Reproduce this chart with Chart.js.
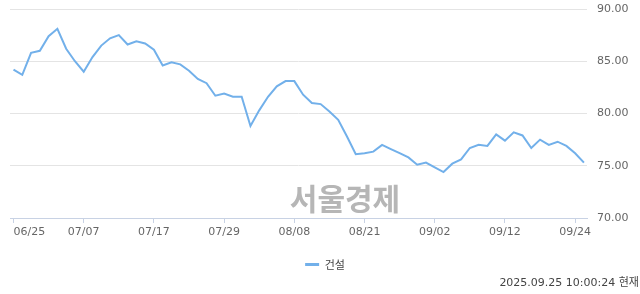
<!DOCTYPE html>
<html>
<head>
<meta charset="utf-8">
<style>
html, body { margin: 0; padding: 0; background: #fff; }
#wrap { position: relative; width: 640px; height: 294px; }
#stamp { position: absolute; right: 1px; top: 276px; font: 11px "DejaVu Sans", "Noto Sans CJK KR", sans-serif; line-height: 14px; color: #444; }
</style>
<script src="https://cdn.jsdelivr.net/npm/chart.js@4"></script>
</head>
<body>
<div id="wrap">
  <canvas id="myChart" width="640" height="294"></canvas>
  <div id="stamp">2025.09.25 10:00:24 현재</div>
</div>
<script>
const dates = ['06/25', '06/26', '06/27', '06/30',
    '07/01', '07/02', '07/03', '07/04', '07/07', '07/08', '07/09', '07/10', '07/11', '07/14', '07/15', '07/16',
    '07/17', '07/18', '07/21', '07/22', '07/23', '07/24', '07/25', '07/28', '07/29', '07/30', '07/31',
    '08/01', '08/04', '08/05', '08/06', '08/07', '08/08', '08/11', '08/12', '08/13', '08/14', '08/18', '08/19',
    '08/20', '08/21', '08/22', '08/25', '08/26', '08/27', '08/28', '08/29',
    '09/01', '09/02', '09/03', '09/04', '09/05', '09/08', '09/09', '09/10', '09/11', '09/12', '09/15', '09/16',
    '09/17', '09/18', '09/19', '09/22', '09/23', '09/24', '09/25'];
const values = [84.2, 83.7, 85.8, 86.0, 87.4, 88.1, 86.2, 85.0, 84.0, 85.4, 86.5, 87.2, 87.5, 86.6, 86.9, 86.7,
    86.1, 84.6, 84.9, 84.7, 84.1, 83.3, 82.9, 81.7, 81.9, 81.6, 81.6, 78.8, 80.3, 81.6, 82.6, 83.1, 83.1, 81.8,
    81.0, 80.9, 80.2, 79.4, 77.8, 76.1, 76.2, 76.35, 77.0, 76.6, 76.2, 75.8, 75.1, 75.3, 74.85, 74.4, 75.2, 75.6,
    76.7, 77.0, 76.9, 78.0, 77.4, 78.2, 77.9, 76.7, 77.5, 77.0, 77.3, 76.9, 76.2, 75.3];
const tickStep = 8;           // one date label every 8 trading days
const yTicks = [70, 75, 80, 85, 90];
const seriesName = '건설';
const watermark = '서울경제';

const blue = '#72b0ea';
const axisColor = '#c8d2e4';

const watermarkPlugin = {
    id: 'watermark',
    beforeDatasetsDraw(chart) {
        const c = chart.ctx;
        c.save();
        c.font = 'bold 30px "Noto Sans CJK KR", sans-serif';
        c.fillStyle = '#b6b6b6';
        c.textAlign = 'center';
        c.textBaseline = 'middle';
        c.fillText(watermark, 345, 199);
        c.restore();
    }
};

const ctx = document.getElementById('myChart').getContext('2d');

new Chart(ctx, {
    type: 'line',
    data: {
        datasets: [{
            label: seriesName,
            data: values.map((v, i) => ({ x: i, y: v })),
            borderColor: blue,
            backgroundColor: blue,
            borderWidth: 2,
            pointRadius: 0,
            tension: 0,
            fill: false
        }]
    },
    options: {
        responsive: false,
        animation: false,
        layout: { padding: { top: 9, left: 10, right: 0, bottom: 14 } },
        scales: {
            x: {
                type: 'linear',
                min: -0.4,
                max: values.length - 0.65,
                afterFit(s) {
                    s.height = 31;
                    s.paddingLeft = 0;
                    s.paddingRight = 0;
                },
                afterBuildTicks(s) {
                    // empty end tick so the 09/24 label stays centred
                    s.ticks.push({ value: values.length - 1 });
                },
                ticks: {
                    stepSize: tickStep,
                    includeBounds: false,
                    autoSkip: false,
                    maxRotation: 0,
                    align: 'inner',
                    color: '#666',
                    font: { family: 'DejaVu Sans', size: 11 },
                    callback: (v) => (v % tickStep === 0 ? dates[v] : '')
                },
                grid: {
                    drawOnChartArea: false,
                    tickLength: 5,
                    tickColor: (c) => (c.tick && c.tick.value % tickStep === 0 ? axisColor : 'rgba(0,0,0,0)')
                },
                border: { color: axisColor, width: 1 }
            },
            y: {
                position: 'right',
                min: yTicks[0],
                max: yTicks[yTicks.length - 1],
                afterFit(s) {
                    s.width = 53;
                    s.paddingTop = 0;
                    s.paddingBottom = 0;
                },
                afterBuildTicks(s) { s.ticks = yTicks.map(v => ({ value: v })); },
                ticks: {
                    padding: 10,
                    color: '#666',
                    font: { family: 'DejaVu Sans', size: 11 },
                    callback: (v) => v.toFixed(2)
                },
                grid: { color: '#e4e4e4', drawTicks: false },
                border: { display: false }
            }
        },
        plugins: {
            legend: {
                position: 'bottom',
                labels: {
                    boxWidth: 14,
                    boxHeight: 3,
                    color: '#444',
                    font: { family: 'Noto Sans CJK KR', size: 11 },
                    generateLabels(chart) {
                        return Chart.defaults.plugins.legend.labels.generateLabels(chart)
                            .map(l => Object.assign(l, { lineWidth: 0 }));
                    }
                }
            },
            tooltip: { enabled: false }
        }
    },
    plugins: [watermarkPlugin]
});
</script>
</body>
</html>
